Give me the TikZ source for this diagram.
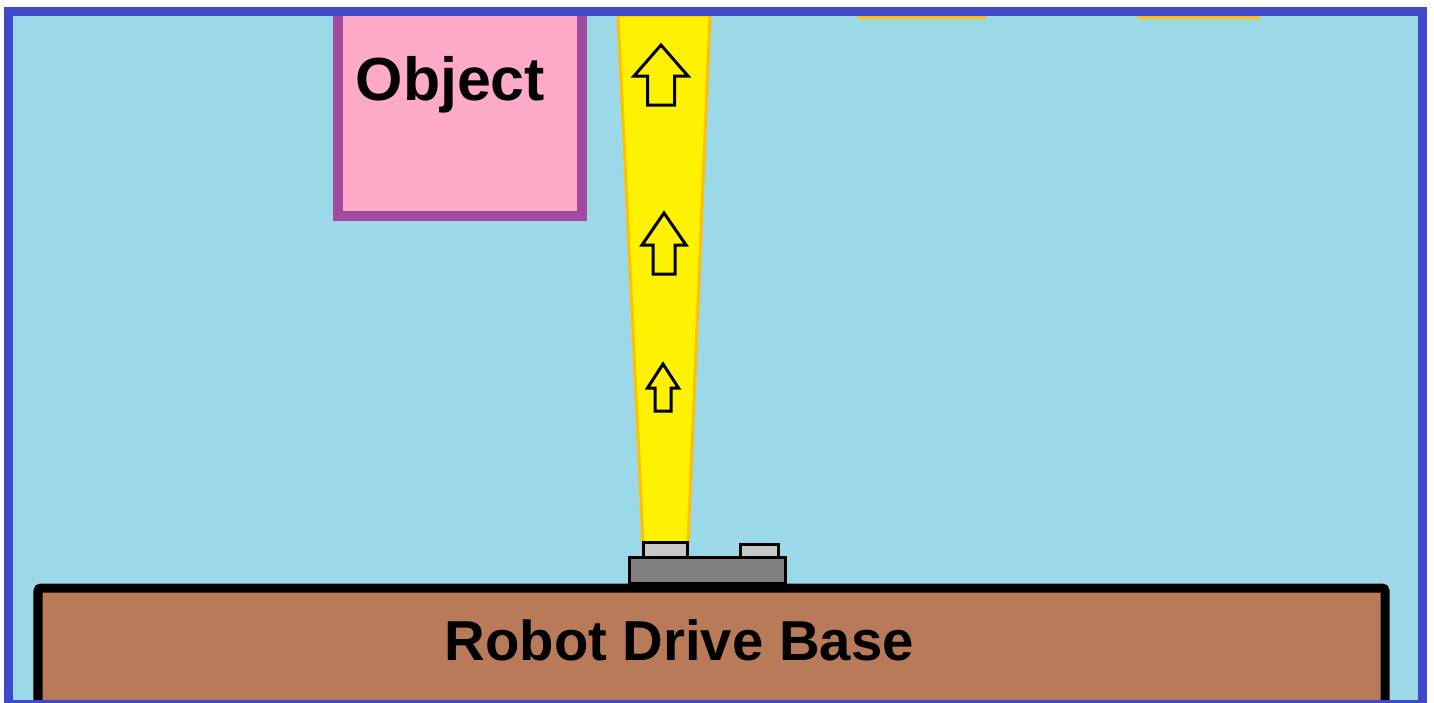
\documentclass[tikz,border=0pt]{standalone}
\usepackage{xcolor}
\usepackage{fontspec}
\setmainfont{Liberation Sans}
\definecolor{sky}{RGB}{155,216,232}
\definecolor{framebl}{RGB}{64,72,204}
\definecolor{objpink}{RGB}{255,170,200}
\definecolor{objpurple}{RGB}{160,74,160}
\definecolor{beamyel}{RGB}{255,242,0}
\definecolor{beamorg}{RGB}{255,192,0}
\definecolor{basebrown}{RGB}{184,122,88}
\definecolor{sensgray}{RGB}{128,128,128}
\definecolor{lensgray}{RGB}{200,200,200}

\begin{document}
\begin{tikzpicture}[x=0.01cm, y=-0.01cm,
  beam/.style={fill=beamyel, draw=beamorg, line width=0.03cm},
  uparr/.style={draw=black, line width=0.03cm, line join=miter},
  part/.style={draw=black, line width=0.03cm}]
\useasboundingbox (0,0) rectangle (1434,702);
\clip (0,0) rectangle (1434,702);

\fill[white] (0,0) rectangle (1434,702);
\fill[sky] (8,11) rectangle (1423,704);

\path[beam] (618,15) -- (710,15) -- (688,543) -- (643,543) -- cycle;
\path[beam] (858,15) rectangle (984,17);
\path[beam] (1138,15) rectangle (1258,17);

\foreach \tx/\ty/\hy/\hw/\sw/\by in {661/45/76/27/13.5/105, 664/213/245/22/11/274, 663/364/388/15.5/8/411}
  \draw[uparr] (\tx,\ty) -- (\tx+\hw,\hy) -- (\tx+\sw,\hy) -- (\tx+\sw,\by)
    -- (\tx-\sw,\by) -- (\tx-\sw,\hy) -- (\tx-\hw,\hy) -- cycle;

\fill[objpink] (338,12) rectangle (582,216);
\draw[objpurple, line width=0.1cm, line join=miter] (338,12) -- (338,216) -- (582,216) -- (582,12);
\node[anchor=base west, inner sep=0pt, font=\fontsize{17.3}{19}\selectfont\bfseries] at (355,100) (object) {Object};

\draw[fill=basebrown, draw=black, line width=0.09cm, rounded corners=0.03cm] (38,730) -- (38,588) -- (1385,588) -- (1385,730);
\node[anchor=base west, inner sep=0pt, font=\fontsize{16}{18}\selectfont\bfseries] at (444,660) (base) {Robot Drive Base};

\draw[part, fill=sensgray] (629,557) rectangle (785,583);
\draw[part, fill=lensgray] (643,542) rectangle (687,557);
\draw[part, fill=lensgray] (740,544) rectangle (778,557);

\draw[framebl, line width=0.09cm] (8.5,11.5) rectangle (1422.5,704);
\end{tikzpicture}
\end{document}
